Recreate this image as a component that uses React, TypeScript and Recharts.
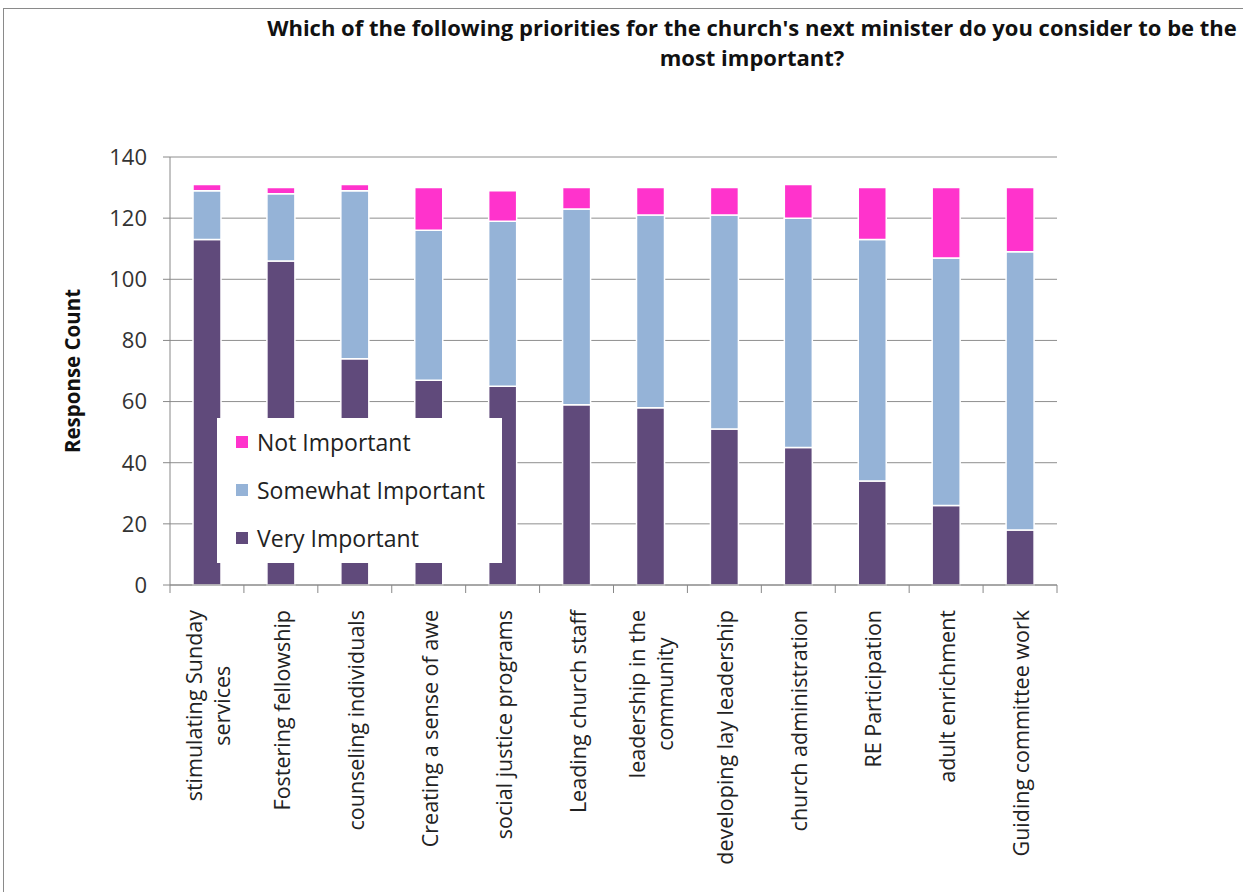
import React from 'react';
import { BarChart, Bar, XAxis, YAxis, CartesianGrid, Legend } from 'recharts';

const categories = [
  'stimulating Sunday services',
  'Fostering fellowship',
  'counseling individuals',
  'Creating a sense of awe',
  'social justice programs',
  'Leading church staff',
  'leadership in the community',
  'developing lay leadership',
  'church administration',
  'RE Participation',
  'adult enrichment',
  'Guiding committee work',
];

const tickLabels: string[][] = [
  ['stimulating Sunday', 'services'],
  ['Fostering fellowship'],
  ['counseling individuals'],
  ['Creating a sense of awe'],
  ['social justice programs'],
  ['Leading church staff'],
  ['leadership in the', 'community'],
  ['developing lay leadership'],
  ['church administration'],
  ['RE Participation'],
  ['adult enrichment'],
  ['Guiding committee work'],
];

const veryImportant = [113, 106, 74, 67, 65, 59, 58, 51, 45, 34, 26, 18];
const somewhatImportant = [16, 22, 55, 49, 54, 64, 63, 70, 75, 79, 81, 91];
const notImportant = [2, 2, 2, 14, 10, 7, 9, 9, 11, 17, 23, 21];

const yTicks = [0, 20, 40, 60, 80, 100, 120, 140];

const seriesNames = ['Not Important', 'Somewhat Important', 'Very Important'];

const COLORS = {
  very: '#604A7B',
  somewhat: '#95B3D7',
  not: '#FF33CC',
};

const FONT = "'Open Sans', Lato, sans-serif";

const data = categories.map((name, i) => ({
  name,
  very: veryImportant[i],
  somewhat: somewhatImportant[i],
  not: notImportant[i],
}));

let ctx: CanvasRenderingContext2D | null = null;
function measure(text: string, font: string): number {
  if (!ctx) {
    const c = document.createElement('canvas');
    ctx = c.getContext('2d');
  }
  if (!ctx) return text.length * 11;
  ctx.font = font;
  return ctx.measureText(text).width;
}

const LABEL_SIZE = 21.5;

function XTick(props: any) {
  const { x, y, payload, index } = props;
  const half = payload && payload.offset != null ? payload.offset : 37;
  const lines = tickLabels[index] || [String(payload.value)];
  const font = `${LABEL_SIZE}px ${FONT}`;
  const maxW = Math.max(...lines.map((l) => measure(l, font)));
  const gap = 25;
  const n = lines.length;
  return (
    <g>
      <line x1={x - half} y1={y} x2={x - half} y2={y + 8} stroke="#888" strokeWidth={1} />
      {index === categories.length - 1 && (
        <line x1={x + half} y1={y} x2={x + half} y2={y + 8} stroke="#888" strokeWidth={1} />
      )}
      <g transform={`translate(${x}, ${y}) rotate(-90)`}>
        {lines.map((l, i) => (
          <text
            key={i}
            x={-(gap + maxW / 2)}
            y={(i - (n - 1) / 2) * 28 + 9}
            textAnchor="middle"
            fontSize={LABEL_SIZE}
            fontFamily={FONT}
            fill="#222"
          >
            {l}
          </text>
        ))}
      </g>
    </g>
  );
}

function YLabel(props: any) {
  const { viewBox } = props;
  const cy = viewBox.y + viewBox.height / 2;
  return (
    <text
      x={0}
      y={0}
      transform={`translate(${80}, ${cy}) rotate(-90)`}
      textAnchor="middle"
      fontSize={20.5}
      fontWeight="bold"
      fontFamily={FONT}
      fill="#111"
    >
      Response Count
    </text>
  );
}

function LegendContent(props: any) {
  const payload = (props.payload || []).slice();
  payload.sort((a: any, b: any) => seriesNames.indexOf(a.value) - seriesNames.indexOf(b.value));
  return (
    <div style={{ background: '#fff', width: 285, height: 145, fontFamily: FONT }}>
      {payload.map((p: any) => (
        <div key={p.value} style={{ display: 'flex', alignItems: 'center', height: 48 }}>
          <div style={{ width: 12, height: 12, background: p.color, marginLeft: 19, marginRight: 9 }} />
          <span style={{ fontSize: 23, color: '#222' }}>{p.value}</span>
        </div>
      ))}
    </div>
  );
}

export default function App() {
  return (
    <div style={{ position: 'absolute', left: 0, top: 0, width: 1243, height: 892, overflow: 'hidden', background: '#fff' }}>
      <div
        style={{
          position: 'absolute',
          left: 3,
          top: 8,
          width: 1400,
          height: 1000,
          border: '1.5px solid #8a8a8a',
        }}
      />
      <div
        style={{
          position: 'absolute',
          left: 254,
          top: 12,
          width: 996,
          textAlign: 'center',
          fontFamily: FONT,
          fontWeight: 'bold',
          fontSize: 22,
          lineHeight: '30px',
          color: '#111',
          whiteSpace: 'nowrap',
        }}
      >
        Which of the following priorities for the church's next minister do you consider to be the
        <br />
        most important?
      </div>
      <div style={{ position: 'absolute', left: 0, top: 0 }}>
        <BarChart
          width={1243}
          height={892}
          data={data}
          margin={{ top: 157, right: 186, bottom: 0, left: 0 }}
          barSize={28}
        >
          <CartesianGrid vertical={false} stroke="#8e8e8e" strokeWidth={1} />
          <XAxis
            dataKey="name"
            interval={0}
            height={307}
            tickLine={false}
            tickSize={0}
            tickMargin={0}
            axisLine={{ stroke: '#888' }}
            tick={<XTick />}
          />
          <YAxis
            width={170}
            domain={[0, 140]}
            ticks={yTicks}
            interval={0}
            tickSize={7}
            tickMargin={16}
            axisLine={{ stroke: '#888' }}
            tickLine={{ stroke: '#888' }}
            tick={{ fontSize: 22, fontFamily: FONT, fill: '#333' }}
            label={<YLabel />}
          />
          <Legend
            layout="horizontal"
            verticalAlign="middle"
            align="center"
            content={<LegendContent />}
            wrapperStyle={{ left: 217, top: 418, width: 285, height: 145 }}
          />
          <Bar dataKey="very" name="Very Important" stackId="a" fill={COLORS.very} stroke="#fff" strokeWidth={1.5} isAnimationActive={false} />
          <Bar dataKey="somewhat" name="Somewhat Important" stackId="a" fill={COLORS.somewhat} stroke="#fff" strokeWidth={1.5} isAnimationActive={false} />
          <Bar dataKey="not" name="Not Important" stackId="a" fill={COLORS.not} stroke="#fff" strokeWidth={1.5} isAnimationActive={false} />
        </BarChart>
      </div>
    </div>
  );
}
